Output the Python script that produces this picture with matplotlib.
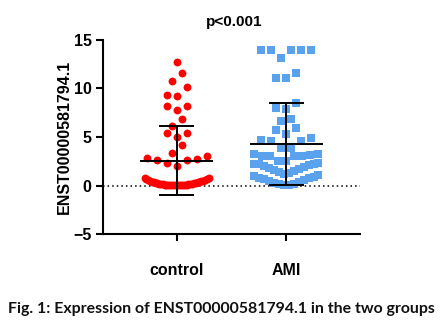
import numpy as np
import matplotlib
matplotlib.use('Agg')
import matplotlib.pyplot as plt

# values
control = [12.7, 11.55, 10.8, 10.15, 9.3, 9.2, 8.2, 8.15, 7.8, 6.85, 6.15,
           5.45, 5.4, 5.0, 4.2, 3.35, 3.0, 2.8, 2.7, 2.65, 2.65, 2.3, 2.05,
           0.75, 0.75, 0.7, 0.65, 0.6, 0.55, 0.5, 0.5, 0.45, 0.4, 0.4, 0.35,
           0.35, 0.3, 0.3, 0.25, 0.25, 0.2, 0.2, 0.2, 0.15, 0.15, 0.15, 0.1,
           0.1, 0.1, 0.1, 0.05, 0.05, 0.05, 0.05, 0.03, 0.02, 0.02, 0.01, 0.01]
ami = [14.0, 14.0, 14.0, 14.0, 14.0, 13.1, 11.6, 11.1, 11.1, 8.5, 8.0, 7.9,
       6.85, 6.6, 5.9, 5.75, 5.35, 4.9, 4.7, 4.55, 4.55, 3.85, 3.85,
       3.25, 3.25, 3.15, 3.05, 3.05, 3.0, 3.0, 2.5, 2.5,
       2.3, 2.25, 2.2, 2.2, 2.1, 2.0, 1.9, 1.8, 1.7, 1.6, 1.5, 1.4, 1.3,
       1.2, 1.1, 1.0, 0.9, 0.8, 0.75, 0.65, 0.55, 0.45, 0.35, 0.25, 0.2,
       0.15, 0.1, 0.05]
groups = ["control", "AMI"]
pvalue = "p<0.001"
caption = "Fig. 1: Expression of ENST00000581794.1 in the two groups"

PX = 110.0  # pixels per x unit (distance between the two columns)


def scatter_x(vals, center, h=1.15, step=10.0, half=32.0):
    # graphpad-ish column layout: rows of height h, lowest values in middle
    vals = np.sort(np.asarray(vals))
    xs = np.zeros(len(vals))
    i = 0
    while i < len(vals):
        j = i
        while j < len(vals) and vals[j] < vals[i] + h - 1e-9:
            j += 1
        n = j - i
        s = step if n < 2 or (n - 1) * step <= 2 * half else 2 * half / (n - 1)
        offs = (np.arange(n) - (n - 1) / 2.0) * s
        order = sorted(range(n), key=lambda k: (abs(offs[k]), offs[k]))
        for rank, k in enumerate(order):
            xs[i + rank] = center + offs[k] / PX
        i = j
    return vals, xs


fig = plt.figure(figsize=(4.42, 3.33), dpi=100)
ax = fig.add_axes([0.234, 0.297, 0.580, 0.583])

styles = [dict(marker='o', color='#ff0000', s=32),
          dict(marker='s', color='#5aa2ee', s=28)]
for i, data in enumerate([control, ami]):
    y, x = scatter_x(data, i)
    ax.scatter(x, y, linewidths=0, zorder=2, **styles[i])
    m = np.mean(data)
    sd = np.std(data, ddof=1)
    ax.vlines(i, m - sd, m + sd, color='black', lw=1.4, zorder=3)
    ax.hlines(m, i - 0.33, i + 0.33, color='black', lw=1.4, zorder=3)
    ax.hlines([m - sd, m + sd], i - 0.16, i + 0.16, color='black', lw=1.4, zorder=3)

ax.axhline(0, color='black', lw=1.1, ls=(0, (1, 2)), zorder=1)

ax.set_xlim(-0.665, 1.667)
ax.set_ylim(-5, 15)
ax.set_yticks([-5, 0, 5, 10, 15])
ax.set_xticks([0, 1])
ax.set_xticklabels(groups)
for sp in ['top', 'right']:
    ax.spines[sp].set_visible(False)
for sp in ['left', 'bottom']:
    ax.spines[sp].set_linewidth(1.5)
ax.tick_params(axis='both', width=1.5, length=5, labelsize=11.5)
ax.tick_params(axis='x', pad=16)
for lab in ax.get_xticklabels() + ax.get_yticklabels():
    lab.set_fontweight('bold')
    lab.set_family('Liberation Sans')
ax.set_ylabel("ENST00000581794.1", fontsize=11.5, fontweight='bold',
              family='Liberation Sans', labelpad=1)
ax.set_title(pvalue, fontsize=11, fontweight='bold', family='Liberation Sans',
             pad=10, x=0.51)

fig.text(0.5, 0.072, caption, ha='center', va='center', fontsize=11.4,
         fontweight='bold', family='Lato', color='#111111')

plt.savefig('out.png', dpi=100)
